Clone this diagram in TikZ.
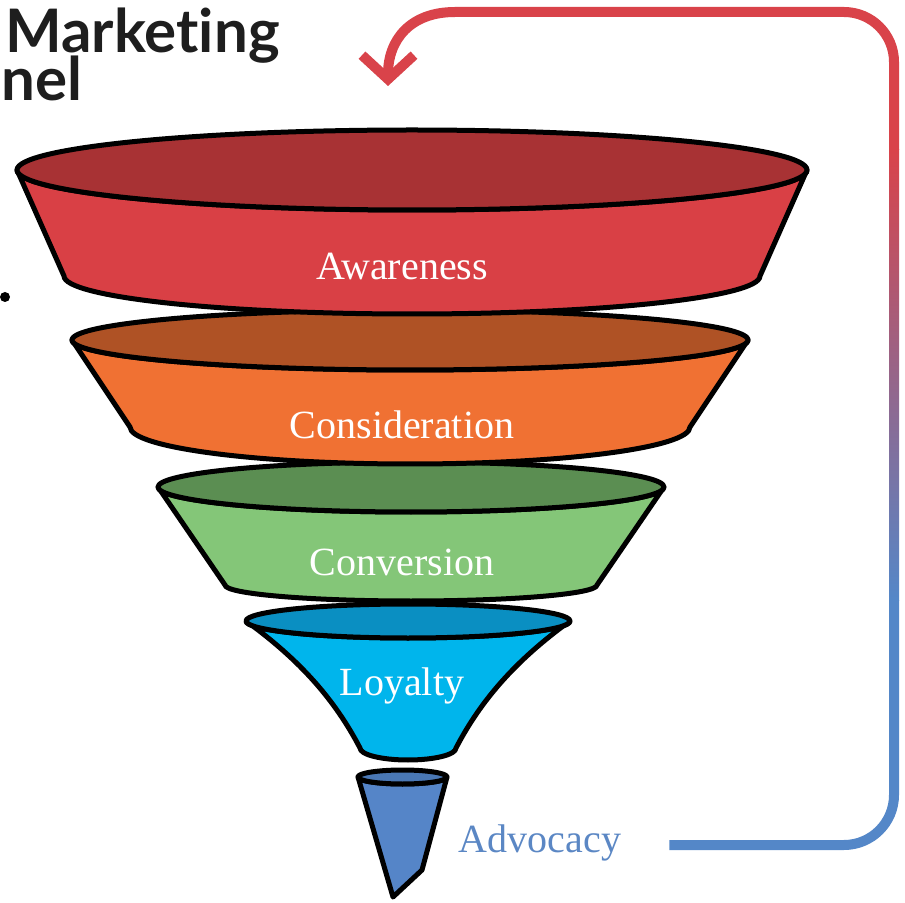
\documentclass[tikz,border=0pt]{standalone}
\usepackage{fontspec}
\setmainfont{Liberation Serif}
\newfontfamily\titlefont[Ligatures=NoCommon]{Lato}
\usepackage{tikz}
\usetikzlibrary{arrows.meta}

\definecolor{titleblack}{HTML}{1E1E1E}
\definecolor{awaretop}{HTML}{A83234}
\definecolor{awarebody}{HTML}{D94045}
\definecolor{considtop}{HTML}{AF5225}
\definecolor{considbody}{HTML}{F07133}
\definecolor{convtop}{HTML}{5B8E52}
\definecolor{convbody}{HTML}{84C678}
\definecolor{loyaltop}{HTML}{0A8FC2}
\definecolor{loyalbody}{HTML}{00B5EC}
\definecolor{advtop}{HTML}{4A78B5}
\definecolor{advbody}{HTML}{5585C8}
\definecolor{advtext}{HTML}{5B87C4}
\definecolor{loopred}{HTML}{D9434A}
\definecolor{loopblue}{HTML}{5487C8}

\tikzstyle{fun_body} = [draw=black, line width=2.5pt, line join=round]
\tikzstyle{fun_lbl} = [text=white, font=\fontsize{20}{24}\selectfont, inner sep=0pt]
\tikzstyle{head_txt} = [inner sep=0pt, text=titleblack, font=\titlefont\bfseries\fontsize{30}{30}\selectfont]
\tikzstyle{loop_line} = [line width=5pt]

\begin{document}
\begin{tikzpicture}[x=0.5pt,y=-0.5pt]
\useasboundingbox (0,0) rectangle (905,903);
\clip (0,0) rectangle (905,903);

% heading in the top left corner
\node [head_txt, anchor=base east, text depth=0pt] (title_a) at (280,53) {Marketing};
\node [head_txt, anchor=base west] (title_b) at (1,101) {nel};
\fill [black] (5,297) circle [radius=5];

% funnel, drawn from the tip upwards so each ring sits over the next
\draw [fun_body, fill=advbody] (358,777) -- (393,897) -- (422,870) -- (447,777)
    arc [start angle=0, end angle=180, x radius=44.5, y radius=7] -- cycle;
\draw [fun_body, fill=advtop] (402.5,777) ellipse [x radius=44.5, y radius=7];

\draw [fun_body, fill=loyalbody] (246,621) .. controls (300,660) and (335,700) .. (360,748)
    arc [start angle=180, end angle=0, x radius=48, y radius=12]
    .. controls (481,700) and (516,660) .. (570,621)
    arc [start angle=0, end angle=180, x radius=162, y radius=17] -- cycle;
\draw [fun_body, fill=loyaltop] (408,621) ellipse [x radius=162, y radius=17];
\node [fun_lbl] (lbl_loyal) at (402,686) {Loyalty};

\draw [fun_body, fill=convbody] (158,487) -- (225,585)
    arc [start angle=180, end angle=0, x radius=186, y radius=16] -- (664,487)
    arc [start angle=0, end angle=180, x radius=253, y radius=25] -- cycle;
\draw [fun_body, fill=convtop] (411,487) ellipse [x radius=253, y radius=25];
\node [fun_lbl] (lbl_conv) at (402,562) {Conversion};

\draw [fun_body, fill=considbody] (72,340) -- (130,427)
    arc [start angle=180, end angle=0, x radius=280, y radius=37] -- (748,340)
    arc [start angle=0, end angle=180, x radius=338, y radius=30] -- cycle;
\draw [fun_body, fill=considtop] (410,340) ellipse [x radius=338, y radius=30];
\node [fun_lbl] (lbl_consid) at (402,425) {Consideration};

\draw [fun_body, fill=awarebody] (17,170) -- (64,276)
    arc [start angle=180, end angle=0, x radius=348, y radius=38] -- (807,170)
    arc [start angle=0, end angle=180, x radius=395, y radius=40] -- cycle;
\draw [fun_body, fill=awaretop] (412,170) ellipse [x radius=395, y radius=40];
\node [fun_lbl] (lbl_aware) at (402,266) {Awareness};

% last stage and the loop back to the top
\node [font=\fontsize{20}{24}\selectfont, text=advtext, inner sep=0pt] (adv) at (540,843) {Advocacy};
\coordinate (loop_low) at (894,600);
\coordinate (loop_high) at (894,150);
\coordinate (loop_top) at (455,12);
\coordinate (loop_tip) at (388,86);
\draw [loop_line, draw=loopblue, rounded corners=25pt] ([xshift=24pt,yshift=-1pt]adv.east) -| (loop_low);
\shade [top color=loopred, bottom color=loopblue] ([xshift=-2.5pt]loop_high) rectangle ([xshift=2.5pt]loop_low);
\draw [loop_line, draw=loopred, rounded corners=25pt] (loop_high) |- (loop_top);
\draw [loop_line, draw=loopred, -{Straight Barb[length=12pt,width=26pt]}] (loop_top)
    .. controls (410,12) and (388,40) .. (loop_tip);
\end{tikzpicture}
\end{document}
